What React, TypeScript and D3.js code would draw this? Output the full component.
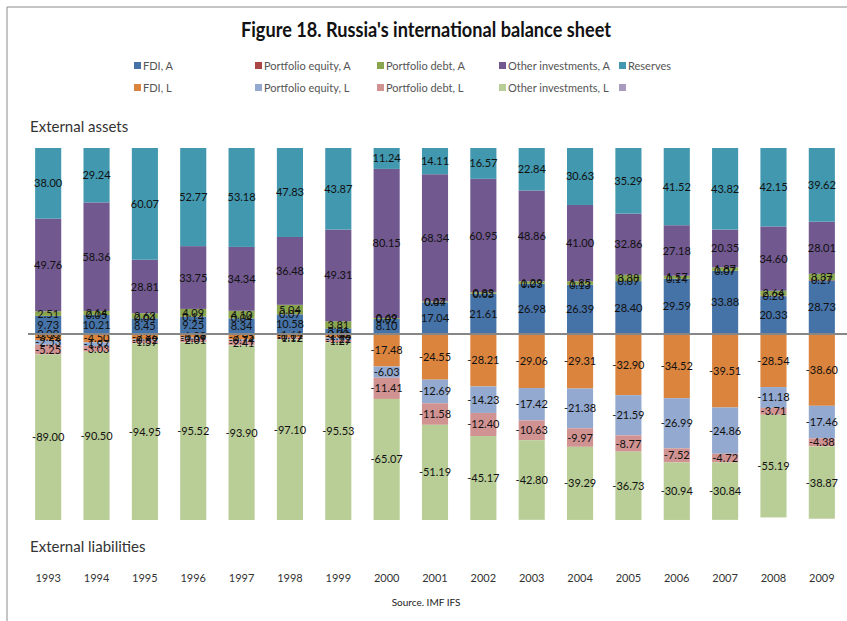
import React from "react";
import * as d3 from "d3";

const years = ["1993","1994","1995","1996","1997","1998","1999","2000","2001","2002","2003","2004","2005","2006","2007","2008","2009"];

const fdiA = [9.73, 10.21, 8.45, 9.25, 8.34, 10.58, 3.01, 8.10, 17.04, 21.61, 26.98, 26.39, 28.40, 29.59, 33.88, 20.33, 28.73];
const peA = [0.00, 0.05, 0.04, 0.14, 0.04, 0.07, 0.00, 0.02, 0.04, 0.05, 0.03, 0.13, 0.07, 0.14, 0.07, 0.28, 0.27];
const pdA = [2.51, 2.14, 2.63, 4.09, 4.10, 5.04, 3.81, 0.49, 0.47, 0.82, 1.29, 1.85, 3.38, 1.57, 1.87, 2.64, 3.37];
const oiA = [49.76, 58.36, 28.81, 33.75, 34.34, 36.48, 49.31, 80.15, 68.34, 60.95, 48.86, 41.00, 32.86, 27.18, 20.35, 34.60, 28.01];
const reserves = [38.00, 29.24, 60.07, 52.77, 53.18, 47.83, 43.87, 11.24, 14.11, 16.57, 22.84, 30.63, 35.29, 41.52, 43.82, 42.15, 39.62];
const fdiL = [-3.22, -4.50, -2.86, -1.88, -2.95, -1.61, -1.98, -17.48, -24.55, -28.21, -29.06, -29.31, -32.90, -34.52, -39.51, -28.54, -38.60];
const peL = [-2.53, -1.97, -0.62, -0.59, -0.74, -0.17, -1.22, -6.03, -12.69, -14.23, -17.42, -21.38, -21.59, -26.99, -24.86, -11.18, -17.46];
const pdL = [-5.25, -3.03, -1.57, -2.01, -2.41, -1.12, -1.27, -11.41, -11.58, -12.40, -10.63, -9.97, -8.77, -7.52, -4.72, -3.71, -4.38];
const oiL = [-89.00, -90.50, -94.95, -95.52, -93.90, -97.10, -95.53, -65.07, -51.19, -45.17, -42.80, -39.29, -36.73, -30.94, -30.84, -55.19, -38.87];

const seriesNames = ["FDI, A", "Portfolio equity, A", "Portfolio debt, A", "Other investments, A", "Reserves", "FDI, L", "Portfolio equity, L", "Portfolio debt, L", "Other investments, L"];
const seriesValues = [fdiA, peA, pdA, oiA, reserves, fdiL, peL, pdL, oiL];
const colors = ["#4572A7", "#AA4643", "#89A54E", "#71588F", "#4198AF", "#DB843D", "#93A9CF", "#D19392", "#B9CD96", "#A99BBD"];
const legendNames = [...seriesNames.slice(0, 5), ...seriesNames.slice(5), ""];

const W = 847, H = 621;
const FONT = "Lato, 'Open Sans', sans-serif";

export default function App() {
  const rows = years.map((y, i) => {
    const r: any = { year: y };
    seriesNames.forEach((n, k) => (r[n] = seriesValues[k][i]));
    return r;
  });
  const stack = d3.stack<any>().keys(seriesNames).offset(d3.stackOffsetDiverging);
  const layers = stack(rows);

  const x = d3.scaleBand<string>().domain(years).range([24, 846]).paddingInner(0.46).paddingOuter(0.23);
  const y = d3.scaleLinear().domain([-100, 100]).range([520, 148]);

  const legendX = [137, 258, 380, 502, 622];
  const legendY = [70, 92];

  return (
    <svg width={W} height={H} style={{ position: "absolute", left: 0, top: 0, background: "#fff" }} fontFamily={FONT}>
      <rect x={0} y={0} width={W} height={H} fill="#fff" />
      <line x1={7} y1={7} x2={W} y2={7} stroke="#8c8c8c" strokeWidth={1} />
      <line x1={7} y1={7} x2={7} y2={H} stroke="#8c8c8c" strokeWidth={1} />
      <text x={426} y={37} textAnchor="middle" fontSize={20} fontWeight="bold" fill="#111" textLength={370} lengthAdjust="spacingAndGlyphs">
        Figure 18. Russia's international balance sheet
      </text>
      {legendNames.map((n, k) => {
        const col = k % 5, row = Math.floor(k / 5);
        return (
          <g key={"lg" + k}>
            <rect x={legendX[col] - 3} y={legendY[row] - 8} width={7} height={7} fill={colors[k]} />
            <text x={legendX[col] + 6} y={legendY[row]} fontSize={11} fill="#555">{n}</text>
          </g>
        );
      })}
      <text x={30} y={132} fontSize={15} fill="#333">External assets</text>
      <text x={30} y={552} fontSize={15} fill="#333">External liabilities</text>
      {layers.map((layer, k) => (
        <g key={"s" + k} fill={colors[k]}>
          {layer.map((d, i) => (
            <rect key={i} x={x(years[i])} y={y(Math.max(d[0], d[1]))} width={x.bandwidth()} height={Math.abs(y(d[0]) - y(d[1]))} />
          ))}
        </g>
      ))}
      {layers.map((layer, k) => (
        <g key={"l" + k} fontSize={11} fill="#111" textAnchor="middle">
          {layer.map((d, i) => (
            <text key={i} x={(x(years[i]) as number) + x.bandwidth() / 2} y={(y(d[0]) + y(d[1])) / 2 + 4}>
              {seriesValues[k][i].toFixed(2)}
            </text>
          ))}
        </g>
      ))}
      <line x1={28} x2={W} y1={y(0)} y2={y(0)} stroke="#878787" strokeWidth={2} />
      {years.map((yr) => (
        <text key={yr} x={(x(yr) as number) + x.bandwidth() / 2} y={582} fontSize={11} textAnchor="middle" fill="#333">{yr}</text>
      ))}
      <text x={426} y={606} fontSize={10} textAnchor="middle" fill="#222">Source. IMF IFS</text>
    </svg>
  );
}
